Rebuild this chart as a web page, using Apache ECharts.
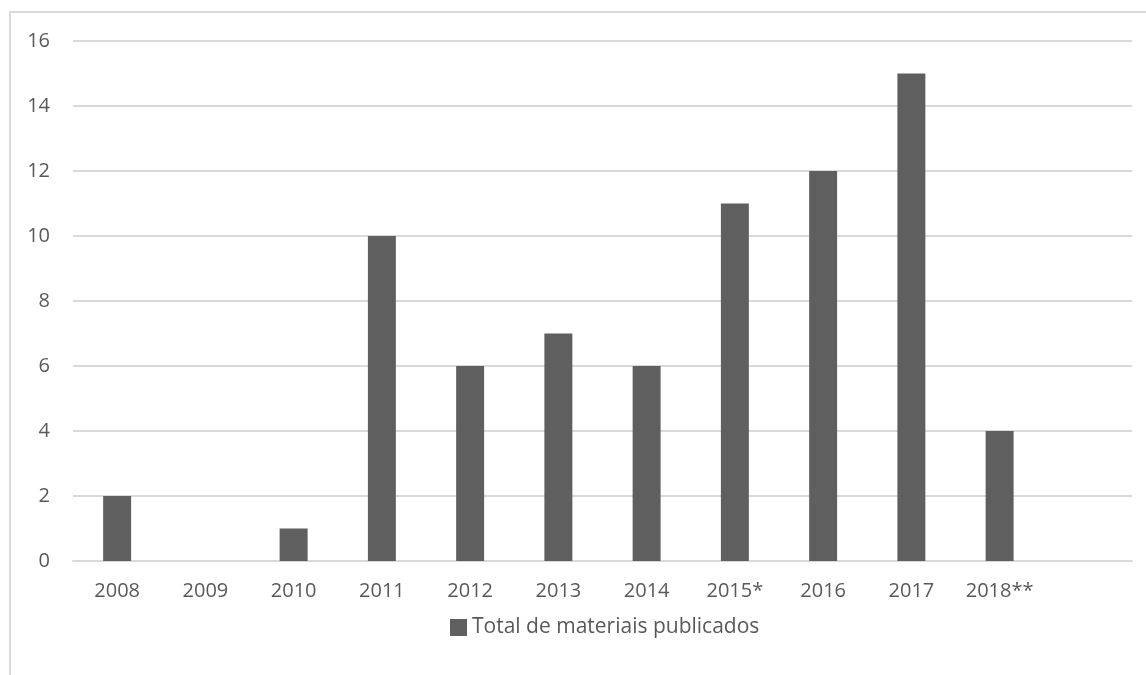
<!DOCTYPE html>
<html>
<head>
<meta charset="utf-8">
<script src="https://cdn.jsdelivr.net/npm/echarts@6/dist/echarts.min.js"></script>
<style>
html,body{margin:0;padding:0;background:#fff;}
#chart{width:1146px;height:675px;}
</style>
</head>
<body>
<div id="chart"></div>
<script>
const categories = ['2008','2009','2010','2011','2012','2013','2014','2015*','2016','2017','2018**',''];
const values = [2, 0, 1, 10, 6, 7, 6, 11, 12, 15, 4, null];
const seriesName = 'Total de materiais publicados';
const yTicks = {min: 0, max: 16, interval: 2};

const chart = echarts.init(document.getElementById('chart'), null, {renderer: 'canvas'});
const textColor = '#595959';
const font = '"Open Sans", "Noto Sans", sans-serif';
chart.setOption({
  animation: false,
  backgroundColor: '#ffffff',
  textStyle: {fontFamily: font},
  graphic: [{
    type: 'rect',
    shape: {x: 10, y: 12, width: 1200, height: 700},
    style: {fill: 'none', stroke: '#d9d9d9', lineWidth: 2},
    silent: true
  }],
  grid: {left: 73, right: 14, top: 41, bottom: 114, containLabel: false},
  legend: {
    data: [seriesName],
    left: 450,
    top: 617,
    padding: 0,
    icon: 'rect',
    itemWidth: 17,
    itemHeight: 17,
    itemGap: 6,
    textStyle: {color: textColor, fontSize: 21, fontFamily: font, padding: [0,0,0,0]}
  },
  xAxis: {
    type: 'category',
    data: categories,
    axisLine: {show: true, lineStyle: {color: '#d9d9d9', width: 2}},
    axisTick: {show: false},
    axisLabel: {color: textColor, fontSize: 20, fontFamily: font, margin: 20, interval: 0}
  },
  yAxis: {
    type: 'value',
    min: yTicks.min, max: yTicks.max, interval: yTicks.interval,
    axisLine: {show: false},
    axisTick: {show: false},
    splitLine: {lineStyle: {color: '#d9d9d9', width: 2}},
    axisLabel: {color: textColor, fontSize: 20, fontFamily: font, margin: 23}
  },
  series: [{
    name: seriesName,
    type: 'bar',
    data: values,
    barWidth: '31.7%',
    itemStyle: {color: '#5f5f5f'}
  }]
});
</script>
</body>
</html>
